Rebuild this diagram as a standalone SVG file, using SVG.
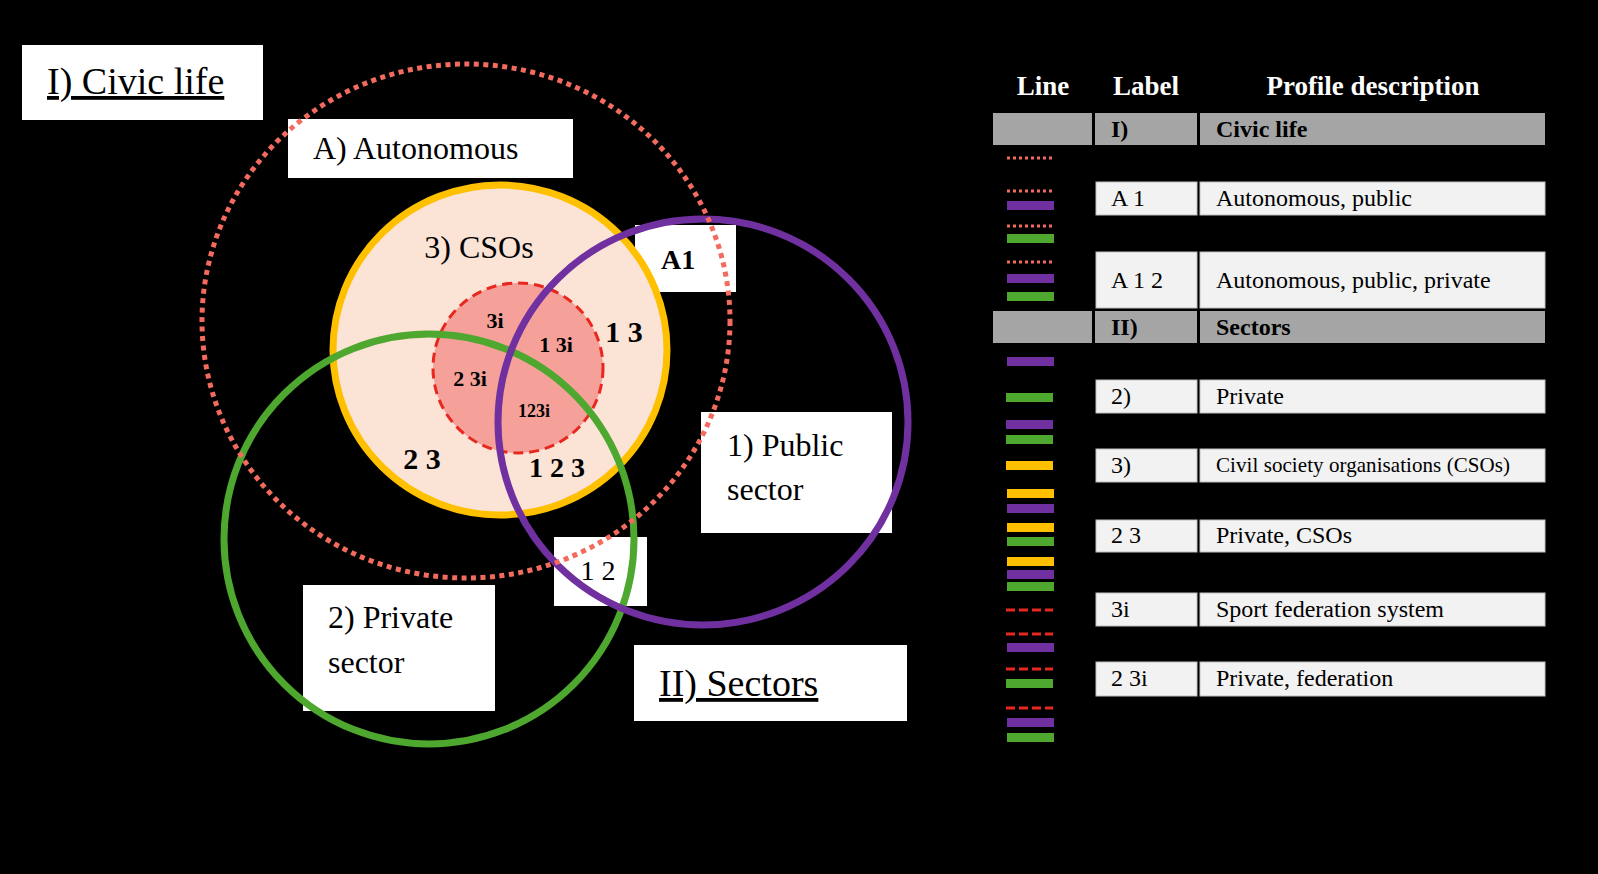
<svg xmlns="http://www.w3.org/2000/svg" width="1598" height="874" viewBox="0 0 1598 874">
<style>
text{font-family:"Liberation Serif","Times New Roman",serif;fill:#000}
.box{fill:#fff}
.big{font-size:38px}
.mid{font-size:32px}
.b{font-weight:bold}
.hdr{font-size:27px;font-weight:bold;fill:#fff}
.tt{font-size:24px}
.gray{fill:#A5A5A5}
.lite{fill:#F2F2F2;stroke:#BFBFBF;stroke-width:1}
.dot{fill:none;stroke:#F26B5E;stroke-width:5;stroke-dasharray:5 4.5}
.ldot{fill:none;stroke:#F26B5E;stroke-width:3;stroke-dasharray:3 3}
.dash{fill:none;stroke:#E8281E;stroke-width:3;stroke-dasharray:10 6}
.ldash{fill:none;stroke:#E8281E;stroke-width:3;stroke-dasharray:9 4}
.pu{fill:#7030A0}.gr{fill:#4EA72E}.or{fill:#FFC000}
</style>
<rect width="1598" height="874" fill="#000"/>
<g id="boxes">
<g id="civic-life"><rect class="box" x="22" y="45" width="241" height="75"/><text class="big" x="47" y="94" text-decoration="underline">I) Civic life</text></g>
<g id="autonomous"><rect class="box" x="288" y="119" width="285" height="59"/><text class="mid" x="313" y="159">A) Autonomous</text></g>
<g id="a1"><rect class="box" x="635" y="225" width="101" height="67"/><text class="b" font-size="28" x="661" y="269">A1</text></g>
<g id="public"><rect class="box" x="701" y="412" width="191" height="121"/><text class="mid" x="727" y="456">1) Public</text><text class="mid" x="727" y="500">sector</text></g>
<g id="one-two"><rect class="box" x="554" y="537" width="93" height="69"/><text font-size="28" x="598" y="580" text-anchor="middle">1 2</text></g>
<g id="private"><rect class="box" x="303" y="585" width="192" height="126"/><text class="mid" x="328" y="628">2) Private</text><text class="mid" x="328" y="673">sector</text></g>
<g id="sectors"><rect class="box" x="634" y="645" width="273" height="76"/><text class="big" x="659" y="696" text-decoration="underline">II) Sectors</text></g>
</g>
<g id="circles">
<g id="cso"><ellipse cx="500" cy="350" rx="167" ry="165" fill="#FBE3D6" stroke="#FFC000" stroke-width="7"/><text class="mid" x="479" y="258" text-anchor="middle">3) CSOs</text></g>
<g id="federation"><circle cx="518" cy="368" r="85" fill="#F5A19A"/><circle class="dash" cx="518" cy="368" r="85"/></g>
<g id="private-circle"><ellipse cx="429" cy="539" rx="205" ry="205" fill="none" stroke="#4EA72E" stroke-width="7"/></g>
<g id="public-circle"><ellipse cx="703" cy="422" rx="205" ry="203" fill="none" stroke="#7030A0" stroke-width="7"/></g>
<g id="autonomous-circle"><ellipse class="dot" cx="466" cy="321" rx="264" ry="257"/></g>
</g>
<g id="region-labels" class="b">
<text font-size="22" x="495" y="328" text-anchor="middle">3i</text>
<text font-size="22" x="556" y="352" text-anchor="middle">1 3i</text>
<text font-size="30" x="624" y="342" text-anchor="middle">1 3</text>
<text font-size="22" x="470" y="386" text-anchor="middle">2 3i</text>
<text font-size="18" x="534" y="417" text-anchor="middle">123i</text>
<text font-size="30" x="422" y="469" text-anchor="middle">2 3</text>
<text font-size="28" x="557" y="477" text-anchor="middle">1 2 3</text>
</g>
<g id="legend">
<text class="hdr" x="1043" y="95" text-anchor="middle">Line</text>
<text class="hdr" x="1146" y="95" text-anchor="middle">Label</text>
<text class="hdr" x="1373" y="95" text-anchor="middle">Profile description</text>
<g id="row-I"><rect class="gray" x="993" y="113" width="99" height="32"/><rect class="gray" x="1095" y="113" width="102" height="32"/><rect class="gray" x="1200" y="113" width="345" height="32"/><text class="tt b" x="1111" y="137">I)</text><text class="tt b" x="1216" y="137">Civic life</text></g>
<g id="row-A1"><rect class="lite" x="1096" y="182" width="101" height="33"/><rect class="lite" x="1200" y="182" width="345" height="33"/><text class="tt" x="1111" y="206">A 1</text><text class="tt" x="1216" y="206">Autonomous, public</text></g>
<g id="row-A12"><rect class="lite" x="1096" y="252" width="101" height="56"/><rect class="lite" x="1200" y="252" width="345" height="56"/><text class="tt" x="1111" y="288">A 1 2</text><text class="tt" x="1216" y="288">Autonomous, public, private</text></g>
<g id="row-II"><rect class="gray" x="993" y="311" width="99" height="32"/><rect class="gray" x="1095" y="311" width="102" height="32"/><rect class="gray" x="1200" y="311" width="345" height="32"/><text class="tt b" x="1111" y="335">II)</text><text class="tt b" x="1216" y="335">Sectors</text></g>
<g id="row-2"><rect class="lite" x="1096" y="380" width="101" height="33"/><rect class="lite" x="1200" y="380" width="345" height="33"/><text class="tt" x="1111" y="404">2)</text><text class="tt" x="1216" y="404">Private</text></g>
<g id="row-3"><rect class="lite" x="1096" y="449" width="101" height="33"/><rect class="lite" x="1200" y="449" width="345" height="33"/><text class="tt" x="1111" y="473">3)</text><text font-size="21" x="1216" y="472" textLength="294">Civil society organisations (CSOs)</text></g>
<g id="row-23"><rect class="lite" x="1096" y="520" width="101" height="32"/><rect class="lite" x="1200" y="520" width="345" height="32"/><text class="tt" x="1111" y="543">2 3</text><text class="tt" x="1216" y="543">Private, CSOs</text></g>
<g id="row-3i"><rect class="lite" x="1096" y="593" width="101" height="33"/><rect class="lite" x="1200" y="593" width="345" height="33"/><text class="tt" x="1111" y="617">3i</text><text class="tt" x="1216" y="617">Sport federation system</text></g>
<g id="row-23i"><rect class="lite" x="1096" y="662" width="101" height="34"/><rect class="lite" x="1200" y="662" width="345" height="34"/><text class="tt" x="1111" y="686">2 3i</text><text class="tt" x="1216" y="686">Private, federation</text></g>
<g id="swatches">
<line class="ldot" x1="1007" y1="158" x2="1053" y2="158"/>
<line class="ldot" x1="1007" y1="191" x2="1053" y2="191"/>
<rect class="pu" x="1007" y="201" width="47" height="9"/>
<line class="ldot" x1="1007" y1="226" x2="1053" y2="226"/>
<rect class="gr" x="1007" y="234" width="47" height="9"/>
<line class="ldot" x1="1007" y1="262" x2="1053" y2="262"/>
<rect class="pu" x="1007" y="274" width="47" height="9"/>
<rect class="gr" x="1007" y="292" width="47" height="9"/>
<rect class="pu" x="1007" y="357" width="47" height="9"/>
<rect class="gr" x="1006" y="393" width="47" height="9"/>
<rect class="pu" x="1006" y="420" width="47" height="9"/>
<rect class="gr" x="1006" y="435" width="47" height="9"/>
<rect class="or" x="1006" y="461" width="47" height="9"/>
<rect class="or" x="1007" y="489" width="47" height="9"/>
<rect class="pu" x="1007" y="504" width="47" height="9"/>
<rect class="or" x="1007" y="523" width="47" height="9"/>
<rect class="gr" x="1007" y="537" width="47" height="9"/>
<rect class="or" x="1007" y="557" width="47" height="9"/>
<rect class="pu" x="1007" y="570" width="47" height="9"/>
<rect class="gr" x="1007" y="582" width="47" height="9"/>
<line class="ldash" x1="1006" y1="610" x2="1053" y2="610"/>
<line class="ldash" x1="1006" y1="634" x2="1053" y2="634"/>
<rect class="pu" x="1007" y="643" width="47" height="9"/>
<line class="ldash" x1="1006" y1="669" x2="1053" y2="669"/>
<rect class="gr" x="1006" y="679" width="47" height="9"/>
<line class="ldash" x1="1006" y1="708" x2="1053" y2="708"/>
<rect class="pu" x="1007" y="718" width="47" height="9"/>
<rect class="gr" x="1007" y="733" width="47" height="9"/>
</g>
</g>
</svg>
